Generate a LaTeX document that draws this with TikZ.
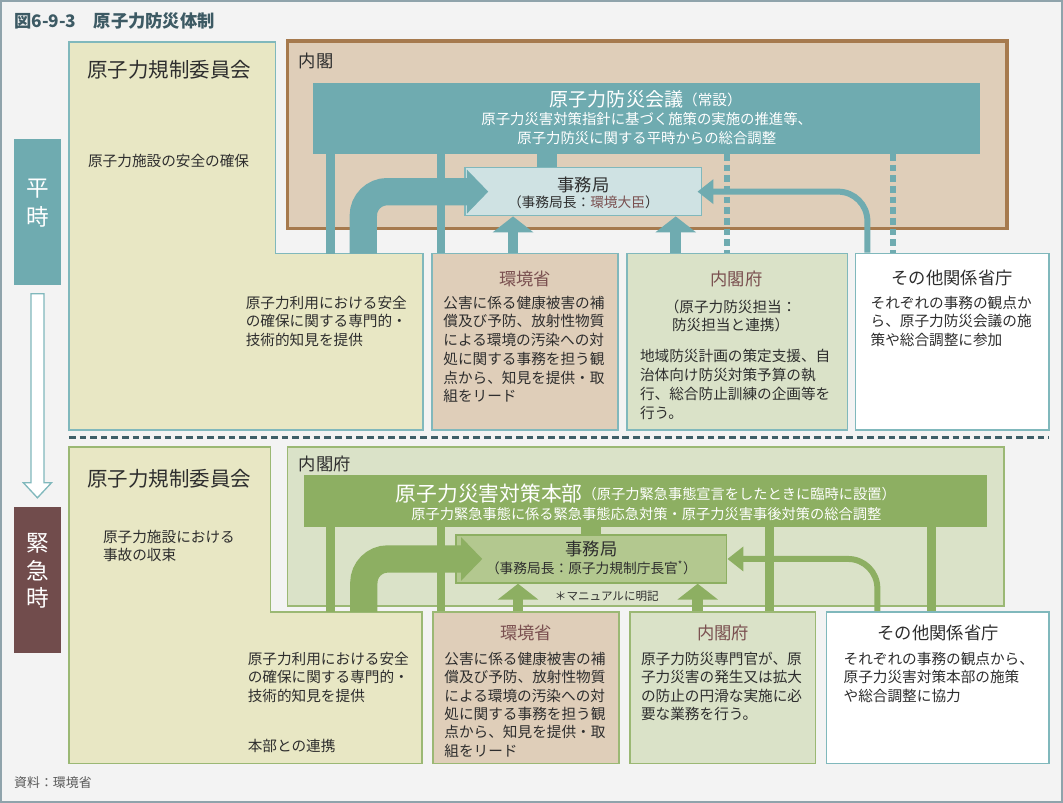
\documentclass[tikz,border=0pt]{standalone}
\usepackage{fontspec}
\setmainfont{Noto Sans CJK JP}
\usetikzlibrary{arrows.meta,fit,calc}

\definecolor{paper}{HTML}{F3F3F3}
\definecolor{rim}{HTML}{8FA3AB}
\definecolor{heading}{HTML}{3D5A64}
\definecolor{sea}{HTML}{6FABB0}
\definecolor{sealine}{HTML}{80B8BC}
\definecolor{seapale}{HTML}{CFE2E3}
\definecolor{cabinet}{HTML}{DFCEB9}
\definecolor{cabrim}{HTML}{A67A4E}
\definecolor{nra}{HTML}{E8E7C4}
\definecolor{leaf}{HTML}{8DAF62}
\definecolor{leafline}{HTML}{9BB874}
\definecolor{leafpale}{HTML}{DAE2C8}
\definecolor{leafmid}{HTML}{B3C88F}
\definecolor{wine}{HTML}{714C4C}
\definecolor{ministry}{HTML}{7A5050}
\definecolor{ink}{HTML}{2E2E2E}
\definecolor{rule}{HTML}{3E5F68}

\newcommand{\setfs}[2]{\fontsize{#1}{#2}\selectfont}

\begin{document}
\begin{tikzpicture}[x=0.75pt, y=-0.75pt,
    panel/.style={fit={#1}, inner sep=0pt, line width=1.2pt},
    band/.style={fit={#1}, inner sep=0pt},
    title/.style={font=\setfs{13}{15}, text=ink, inner sep=0pt},
    org/.style={font=\setfs{15.4}{18}, text=ink, inner sep=0pt, anchor=west},
    body/.style={font=\setfs{11}{14.1}, text=ink, align=left, inner sep=0pt, anchor=north west},
    link/.style={line width=6.5pt},
    dashlink/.style={line width=4.5pt, dash pattern=on 5pt off 3pt},
    bigarrow/.style={line width=20.5pt, rounded corners=18pt, -{Triangle[width=32pt,length=16pt]}},
    uparrow/.style={line width=8.2pt, -{Triangle[width=30pt,length=12pt]}},
    sidearrow/.style={line width=4.5pt, rounded corners=22pt, -{Triangle[width=18pt,length=12pt]}}
]

% Page and frame
\fill[paper] (0,0) rectangle (1063,802);
\draw[rim, line width=1.5pt] (0,0) rectangle (1063,802);
\useasboundingbox (0,0) rectangle (1063,802);
\node[anchor=west, font=\setfs{13}{15}\bfseries, text=heading, inner sep=0pt] (fig) at (13,20) {図6-9-3\hspace{1em}原子力防災体制};

% Phase labels
\node[band={(13,138) (60,285)}, fill=sea, text=white, font=\setfs{17}{22}, align=center] (heiji) {平\\時};
\node[band={(13,507) (60,653)}, fill=wine, text=white, font=\setfs{17}{21}, align=center] (kinkyu) {緊\\急\\時};
\draw[sealine, fill=white, line width=1pt]
    ($(heiji.south)+(-6.5,8)$) -- ($(heiji.south)+(6.5,8)$) -- ($(kinkyu.north)+(6.5,-24)$)
    -- ($(kinkyu.north)+(14,-24)$) -- ($(kinkyu.north)+(0,-9)$) -- ($(kinkyu.north)+(-14,-24)$)
    -- ($(kinkyu.north)+(-6.5,-24)$) -- cycle;

% ---------- Normal times ----------
% Nuclear Regulation Authority (L-shaped panel)
\filldraw[fill=nra, draw=sealine, line width=1.2pt] (68,41) -- (275,41) -- (275,253) -- (423,253) -- (423,430) -- (68,430) -- cycle;
\coordinate (nraA) at (330,253);
\coordinate (nraB) at (363,253);
\node[org] at (86,69) {原子力規制委員会};
\node[body, anchor=west] at (87,160) {原子力施設の安全の確保};
\node[body] at (245,295) {原子力利用における安全\\の確保に関する専門的・\\技術的知見を提供};

% Cabinet frame, council and secretariat
\node[panel={(287,40) (1008,228)}, fill=cabinet, draw=cabrim, line width=2.6pt] (naikaku) {};
\node[title, anchor=west] at (298,60) {内閣};
\node[band={(313,82) (981,153)}, fill=sea] (kaigi) {};
\node[text=white, font=\setfs{14.3}{16}, inner sep=0pt] at (646,99) {原子力防災会議\raisebox{0.8pt}{\setfs{11}{12}（常設）}};
\node[text=white, font=\setfs{10.8}{14.3}, align=center, inner sep=0pt] at (647,127.5) {原子力災害対策指針に基づく施策の実施の推進等、\\原子力防災に関する平時からの総合調整};
\node[panel={(465,167) (702,215)}, fill=seapale, draw=sealine] (jimu) {};
\node[title] at (583.5,184) {事務局};
\node[font=\setfs{10.3}{12}, text=ink, inner sep=0pt] at (583.5,202) {（事務局長：\textcolor{ministry}{環境大臣}）};

% Ministries
\node[panel={(432,253) (618,430)}, fill=cabinet, draw=sealine] (kankyo) {};
\node[panel={(627,253) (848,430)}, fill=leafpale, draw=sealine] (cao) {};
\node[panel={(856,253) (1050,430)}, fill=white, draw=sealine] (others) {};
\node[title, text=ministry] at (525,278) {環境省};
\node[body] at (443,295) {公害に係る健康被害の補\\償及び予防、放射性物質\\による環境の汚染への対\\処に関する事務を担う観\\点から、知見を提供・取\\組をリード};
\node[title, text=ministry] at (737,278) {内閣府};
\node[body, align=center, anchor=center] at (731,315.5) {（原子力防災担当：\\防災担当と連携）};
\node[body] at (640,349) {地域防災計画の策定支援、自\\治体向け防災対策予算の執\\行、総合防止訓練の企画等を\\行う。};
\node[title] at (953,277) {その他関係省庁};
\node[body] at (871,295) {それぞれの事務の観点か\\ら、原子力防災会議の施\\策や総合調整に参加};

% Links to the council
\coordinate (colB) at (441,0);
\coordinate (colC) at (727,0);
\coordinate (colD) at (894,0);
\coordinate (colS) at (547,0);
\coordinate (colE) at (513,0);
\coordinate (colF) at (676,0);
\coordinate (colG) at (868,0);
\draw[link, sea] (kaigi.south -| nraA) -- (nraA);
\draw[link, sea] (kaigi.south -| colB) -- (kankyo.north -| colB);
\draw[dashlink, sea] (kaigi.south -| colC) -- (cao.north -| colC);
\draw[dashlink, sea] (kaigi.south -| colD) -- (others.north -| colD);
\draw[line width=14.5pt, sea] (kaigi.south -| colS) -- (jimu.north -| colS);

% Arrows into the secretariat
\draw[bigarrow, sea] (nraB) |- ($(jimu.west)+(24,0)$);
\draw[uparrow, sea] (kankyo.north -| colE) -- (jimu.south -| colE);
\draw[uparrow, sea] (cao.north -| colF) -- (jimu.south -| colF);
\draw[sidearrow, sea] (others.north -| colG) |- ($(jimu.east)+(-5,0)$);

% Separator
\draw[rule, line width=2.3pt, dash pattern=on 5pt off 3pt] (68,437) -- (1050,437);

% ---------- Emergency ----------
\filldraw[fill=nra, draw=leafline, line width=1.2pt] (68,447) -- (270,447) -- (270,612) -- (422,612) -- (422,764) -- (68,764) -- cycle;
\coordinate (nraC) at (330,612);
\coordinate (nraD) at (363.5,612);
\node[org] at (86,479) {原子力規制委員会};
\node[body, font=\setfs{11}{13.5}] at (102,530) {原子力施設における\\事故の収束};
\node[body, font=\setfs{11}{13.8}] at (247,652) {原子力利用における安全\\の確保に関する専門的・\\技術的知見を提供};
\node[body, anchor=west] at (247,746) {本部との連携};

% Cabinet Office frame, headquarters and secretariat
\node[panel={(287,447) (1005,606)}, fill=leafpale, draw=leafline] (caoBig) {};
\node[title, anchor=west] at (298,464) {内閣府};
\node[band={(304,475) (988,527)}, fill=leaf] (honbu) {};
\node[text=white, font=\setfs{15.6}{18}, inner sep=0pt] at (646,494) {原子力災害対策本部\raisebox{1.8pt}{\setfs{10.7}{12}（原子力緊急事態宣言をしたときに臨時に設置）}};
\node[text=white, font=\setfs{10.7}{12}, inner sep=0pt] at (646.5,514) {原子力緊急事態に係る緊急事態応急対策・原子力災害事後対策の総合調整};
\node[panel={(456,535) (727,583)}, fill=leafmid, draw=leaf] (jimu2) {};
\node[title] at (591.5,549) {事務局};
\node[font=\setfs{10.3}{12}, text=ink, inner sep=0pt] at (591.5,568) {（事務局長：原子力規制庁長官\textsuperscript{*}）};
\node[font=\setfs{8.7}{10}, text=ink, inner sep=0pt] at (607,596) {＊マニュアルに明記};

% Ministries
\node[panel={(433,612) (619,764)}, fill=cabinet, draw=leafline] (kankyo2) {};
\node[panel={(630,612) (816,764)}, fill=leafpale, draw=leafline] (cao2) {};
\node[panel={(827,612) (1050,764)}, fill=white, draw=sealine] (others2) {};
\node[title, text=ministry] at (526,633) {環境省};
\node[body, font=\setfs{11}{13.8}] at (444,652) {公害に係る健康被害の補\\償及び予防、放射性物質\\による環境の汚染への対\\処に関する事務を担う観\\点から、知見を提供・取\\組をリード};
\node[title, text=ministry] at (723.5,633) {内閣府};
\node[body, font=\setfs{11}{13.8}] at (641,652) {原子力防災専門官が、原\\子力災害の発生又は拡大\\の防止の円滑な実施に必\\要な業務を行う。};
\node[title] at (939,633) {その他関係省庁};
\node[body, font=\setfs{11}{13.8}] at (844,652) {それぞれの事務の観点から、\\原子力災害対策本部の施策\\や総合調整に協力};

% Links to the headquarters
\coordinate (colH) at (770,0);
\coordinate (colI) at (932,0);
\coordinate (colJ) at (518,0);
\coordinate (colK) at (698,0);
\coordinate (colL) at (878,0);
\draw[link, leaf] (honbu.south -| nraC) -- (nraC);
\draw[link, leaf] (honbu.south -| colB) -- (kankyo2.north -| colB);
\draw[link, leaf] (honbu.south -| colH) -- (cao2.north -| colH);
\draw[link, leaf] (honbu.south -| colI) -- (others2.north -| colI);
\draw[line width=15pt, leaf] (honbu.south -| jimu2.north) -- (jimu2.north);

% Arrows into the secretariat
\draw[bigarrow, leaf] (nraD) |- ($(jimu2.west)+(27,0)$);
\draw[uparrow, leaf] (kankyo2.north -| colJ) -- (jimu2.south -| colJ);
\draw[uparrow, leaf] (cao2.north -| colK) -- (jimu2.south -| colK);
\draw[sidearrow, leaf] (others2.north -| colL) |- (jimu2.east);

% Source
\node[anchor=west, font=\setfs{9.7}{12}, text=black!65, inner sep=0pt] (src) at (13,783) {資料：環境省};

\end{tikzpicture}
\end{document}
